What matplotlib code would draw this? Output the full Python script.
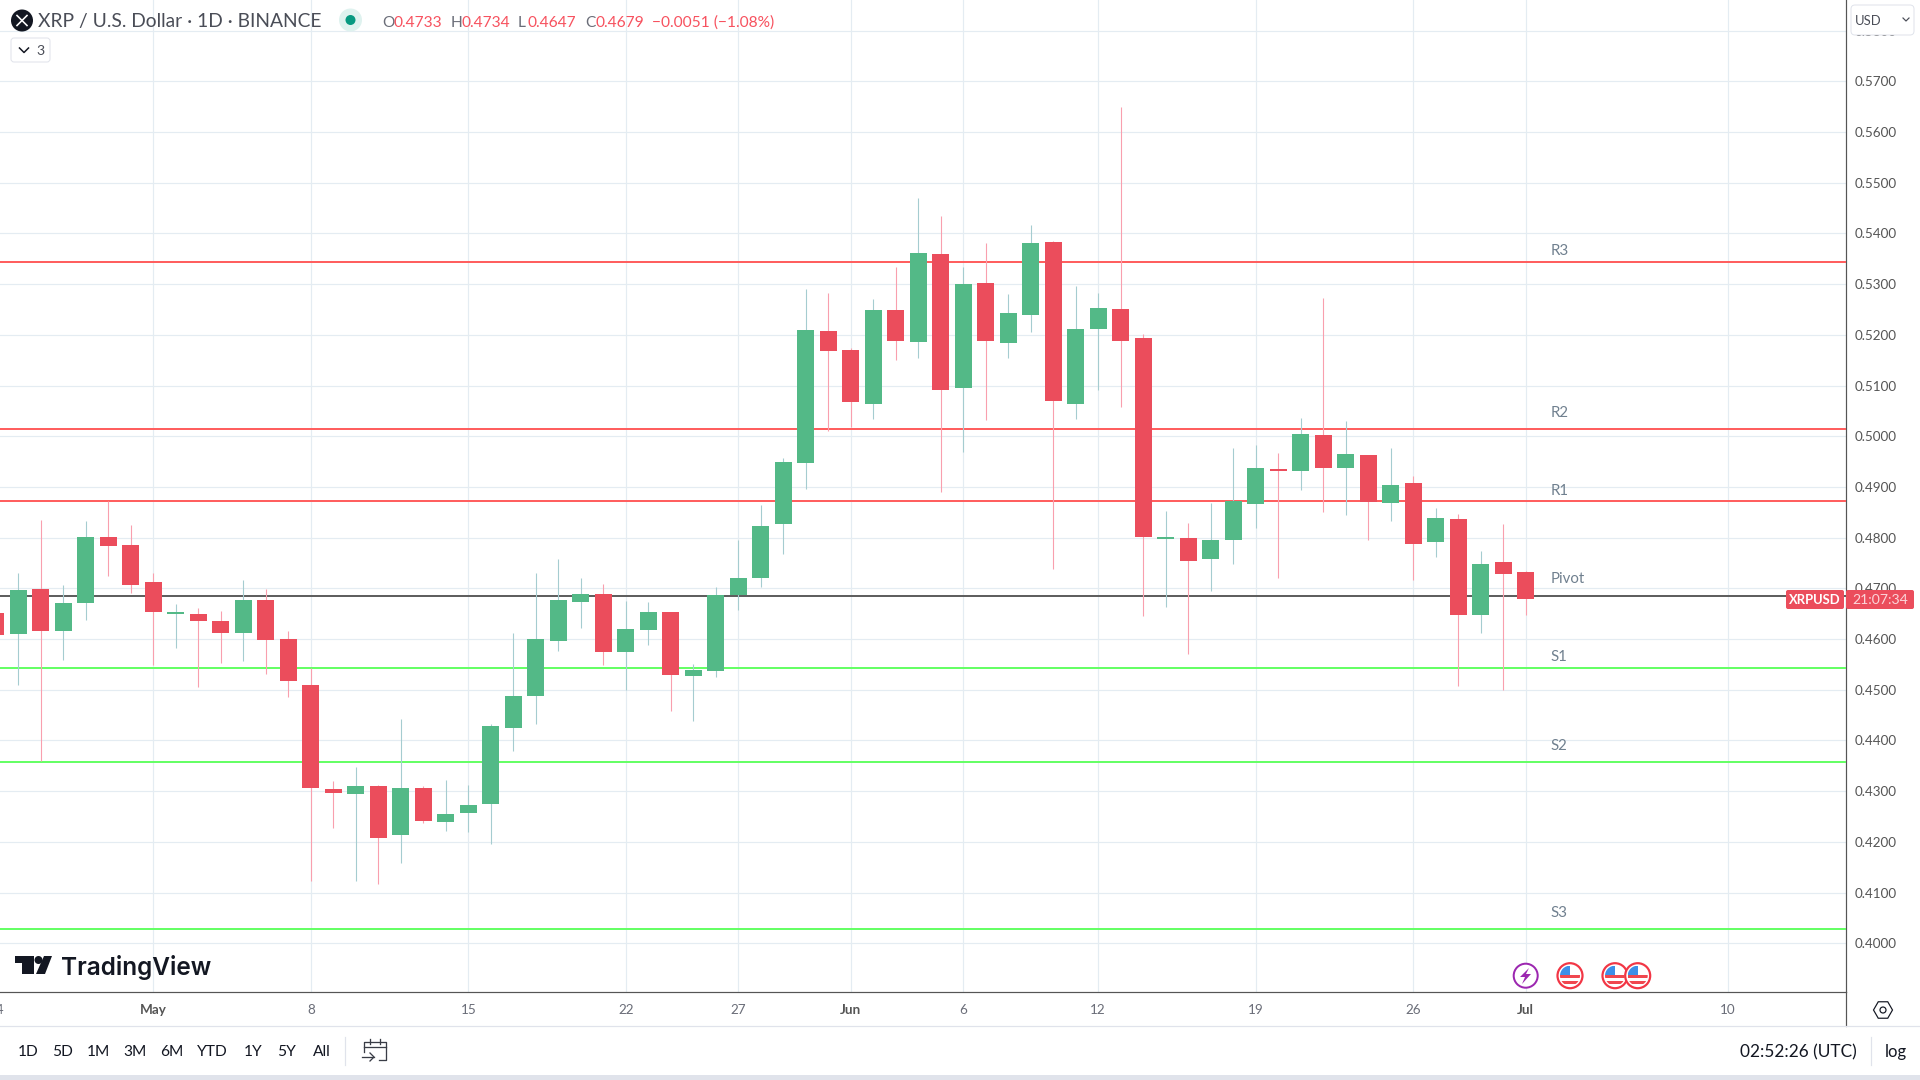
import matplotlib
matplotlib.use('Agg')
import matplotlib.pyplot as plt
from matplotlib.patches import Circle, Rectangle, Polygon, FancyBboxPatch, RegularPolygon

# daily candles, day 0 is May 1
candle_days = list(range(-7, 62))
opens = [.4651, .4610, .4699, .4616, .4671, .4801, .4786, .4713, .4650, .4650, .4636, .4612, .4677, .4600, .4509,
         .4304, .4294, .4310, .4214, .4306, .4239, .4257, .4274, .4425, .4488, .4596, .4673, .4689, .4574, .4618,
         .4653, .4527, .4537, .4687, .4720, .4827, .4947, .5207, .5170, .5064, .5249, .5186, .5359, .5095, .5302,
         .5184, .5239, .5383, .5064, .5212, .5251, .5194, .4797, .4799, .4758, .4795, .4866, .4935, .4931, .5002,
         .4937, .4963, .4868, .4908, .4791, .4837, .4647, .4752, .4733]
closes = [.4608, .4697, .4616, .4671, .4801, .4784, .4707, .4654, .4654, .4636, .4612, .4677, .4598, .4517, .4306,
          .4296, .4310, .4208, .4306, .4241, .4255, .4273, .4428, .4488, .4600, .4677, .4689, .4574, .4620, .4653,
          .4529, .4539, .4687, .4720, .4823, .4949, .5209, .5168, .5068, .5249, .5188, .5361, .5091, .5300, .5188,
          .5243, .5381, .5069, .5212, .5253, .5188, .4801, .4801, .4754, .4795, .4872, .4937, .4931, .5004, .4937,
          .4965, .4871, .4904, .4788, .4839, .4647, .4748, .4728, .4679]
highs = [.4651, .4730, .4835, .4707, .4833, .4872, .4825, .4730, .4669, .4661, .4655, .4717, .4699, .4616, .4543,
         .4320, .4348, .4312, .4442, .4310, .4322, .4312, .4432, .4612, .4730, .4758, .4720, .4708, .4675, .4673,
         .4653, .4551, .4703, .4795, .4864, .4957, .5290, .5282, .5174, .5271, .5334, .5470, .5434, .5334, .5381,
         .5281, .5417, .5385, .5296, .5282, .5649, .5202, .4852, .4829, .4868, .4977, .4983, .4967, .5036, .5273,
         .5030, .4963, .4977, .4921, .4858, .4847, .4774, .4827, .4734]
lows = [.4608, .4509, .4359, .4559, .4638, .4724, .4691, .4549, .4583, .4505, .4553, .4557, .4531, .4486, .4123,
        .4227, .4123, .4117, .4158, .4237, .4221, .4219, .4196, .4379, .4432, .4576, .4622, .4549, .4499, .4588,
        .4458, .4438, .4525, .4657, .4703, .4768, .4896, .5010, .5018, .5034, .5150, .5154, .4890, .4969, .5032,
        .5154, .5206, .4738, .5034, .5091, .5058, .4645, .4663, .4571, .4695, .4748, .4819, .4720, .4894, .4851,
        .4845, .4795, .4833, .4716, .4762, .4507, .4612, .4500, .4647]

level_names = ['R3', 'R2', 'R1', 'Pivot', 'S1', 'S2', 'S3']
level_values = [.5344, .5014, .4872, .4685, .4543, .4357, .4029]
level_colors = ['#ff5f5f', '#ff5f5f', '#ff5f5f', '#5f5f5f', '#66ff66', '#66ff66', '#66ff66']
level_gaps = [12, 17, 11, 18, 12, 17, 17]

tick_days = [0, 7, 14, 21, 26, 31, 36, 42, 49, 56, 61, 70]
tick_names = ['May', '8', '15', '22', '27', 'Jun', '6', '12', '19', '26', 'Jul', '10']
month_names = ['May', 'Jun', 'Jul']
price_ticks = [.40 + i * .01 for i in range(19)]
range_names = ['1D', '5D', '1M', '3M', '6M', 'YTD', '1Y', '5Y', 'All']
range_pos = [27.7, 62.7, 98.7, 135, 171.7, 212.7, 253, 286.7, 321.7]

UP = '#53b987'
DOWN = '#eb4d5c'
UP_WICK = '#a5ccd0'
DOWN_WICK = '#f99fae'
GRID = '#e4ecf2'
AXIS = '#555555'
FONT = 'Lato'


def px(size):
    return size * 0.72


def draw_candles(ax):
    for i in range(len(candle_days)):
        up = closes[i] >= opens[i]
        ax.vlines(candle_days[i], lows[i], highs[i], color=UP_WICK if up else DOWN_WICK,
                  linewidth=px(1.1), zorder=4)
        ax.bar(candle_days[i], abs(closes[i] - opens[i]), bottom=min(opens[i], closes[i]), width=0.756,
               color=UP if up else DOWN, linewidth=0, zorder=5)


def draw_levels(ax):
    for i in range(len(level_names)):
        ax.axhline(level_values[i], color=level_colors[i], linewidth=px(2), zorder=3)
        ax.annotate(level_names[i], (62.1, level_values[i]), xytext=(0, px(level_gaps[i] - 1)),
                    textcoords='offset points', va='center', ha='left', color='#70808f',
                    fontsize=px(15), family=FONT, zorder=6)


def draw_flag(ov, x, y):
    ring = Circle((x, y), 12.5, facecolor='white', edgecolor='#f23645', linewidth=px(2.2), zorder=3)
    ov.add_patch(ring)
    clip = Circle((x, y), 10, transform=ov.transData)
    for dy, h in [(-1, 3), (5, 3)]:
        r = Rectangle((x - 10, y + dy), 20, h, facecolor='#f0474f', linewidth=0, zorder=4)
        ov.add_patch(r)
        r.set_clip_path(clip)
    r = Rectangle((x - 10, y - 10), 10, 9, facecolor='#3d8fe8', linewidth=0, zorder=5)
    ov.add_patch(r)
    r.set_clip_path(clip)


def draw_chrome(ov):
    # header
    ov.add_patch(Circle((22, 20.5), 11, facecolor='#131722', linewidth=0))
    ov.plot([17, 27], [15.5, 25.5], color='white', linewidth=px(1.6))
    ov.plot([17, 27], [25.5, 15.5], color='white', linewidth=px(1.6))
    ov.text(38, 22, 'XRP / U.S. Dollar · 1D · BINANCE', fontsize=px(19.3), family=FONT, color='#4a4d57', va='center')
    ov.add_patch(Circle((350.5, 20), 11.5, facecolor='#dff2ef', linewidth=0))
    ov.add_patch(Circle((350.5, 20), 5, facecolor='#089981', linewidth=0))
    for x, letter, xv, value in [(382, 'O', 394, '0.4733'), (451, 'H', 462, '0.4734'),
                                 (518, 'L', 528, '0.4647'), (585, 'C', 595, '0.4679')]:
        ov.text(x, 23, letter, fontsize=px(15.5), family=FONT, color='#6a6d78', va='center')
        ov.text(xv, 23, value, fontsize=px(15.5), family=FONT, color='#f7525f', va='center')
    ov.text(652, 23, '\u22120.0051 (\u22121.08%)', fontsize=px(15.5), family=FONT, color='#f7525f', va='center')
    ov.add_patch(FancyBboxPatch((11, 38), 39, 24, boxstyle='round,pad=0,rounding_size=3',
                                facecolor='white', edgecolor='#e0e3eb', linewidth=px(1)))
    ov.plot([19.5, 24, 28.5], [48, 52.5, 48], color='#131722', linewidth=px(1.5))
    ov.text(40, 51, '3', fontsize=px(14), family=FONT, color='#4a4d57', va='center', ha='center')

    # currency box
    ov.add_patch(FancyBboxPatch((1851, 5), 63, 30, boxstyle='round,pad=0,rounding_size=4',
                                facecolor='white', edgecolor='#e0e3eb', linewidth=px(1)))
    ov.text(1855, 21, 'USD', fontsize=px(13), family=FONT, color='#4a4d57', va='center')
    ov.plot([1903, 1906, 1909], [18, 21, 18], color='#4a4d57', linewidth=px(1.2))

    # price label
    ov.add_patch(FancyBboxPatch((1786, 590), 58, 19, boxstyle='round,pad=0,rounding_size=2',
                                facecolor=DOWN, linewidth=0))
    ov.add_patch(FancyBboxPatch((1846, 590), 68, 19, boxstyle='round,pad=0,rounding_size=2',
                                facecolor=DOWN, linewidth=0))
    ov.text(1815, 600, 'XRPUSD', fontsize=px(13), family=FONT, weight='bold', color='white', va='center', ha='center')
    ov.text(1880, 600, '21:07:34', fontsize=px(14), family=FONT, color='#fbd5d9', va='center', ha='center')

    # logo
    ov.add_patch(Polygon([(15, 956), (34, 956), (34, 974), (22, 974), (22, 963), (15, 963)], facecolor='#131722',
                         linewidth=0))
    ov.add_patch(Circle((38.5, 960), 4, facecolor='#131722', linewidth=0))
    ov.add_patch(Polygon([(44, 956), (52, 956), (45, 974), (36, 974)], facecolor='#131722', linewidth=0))
    ov.text(61.5, 967, 'TradingView', fontsize=px(24.4), family='Inter', weight='semibold', color='#131722',
            va='center')

    # events
    ov.add_patch(Circle((1525.7, 975.7), 12, facecolor='white', edgecolor='#9c27b0', linewidth=px(2)))
    ov.add_patch(Polygon([(1529, 968), (1520, 977), (1525, 977), (1522, 984), (1531, 974), (1526, 974)],
                         facecolor='#9c27b0', linewidth=0))
    for x in [1570, 1615, 1637.7]:
        draw_flag(ov, x, 975.7)

    # time axis corner and separators
    ov.plot([1845.5, 1845.5], [992, 1026], color=AXIS, linewidth=px(1.2))
    ov.plot([0, 1920], [1026, 1026], color='#e0e3eb', linewidth=px(1.2))
    ov.add_patch(Rectangle((0, 1075), 1920, 5, facecolor='#e0e3eb', linewidth=0))
    ov.add_patch(RegularPolygon((1883, 1010), 6, radius=9.5, orientation=0.5236, facecolor='white',
                                edgecolor='#131722', linewidth=px(1.2)))
    ov.add_patch(Circle((1883, 1010), 3, facecolor='white', edgecolor='#131722', linewidth=px(1.2)))
    ov.text(-4, 1010, '24', fontsize=px(13.5), family=FONT, color='#6a6d78', va='center', ha='center')

    # bottom toolbar
    for i in range(len(range_names)):
        ov.text(range_pos[i], 1051.5, range_names[i], fontsize=px(15.5), family=FONT, color='#131722',
                va='center', ha='center')
    ov.plot([345, 345], [1037, 1065], color='#e0e3eb', linewidth=px(1.2))
    ov.plot([364, 364, 386, 386, 379], [1052, 1042, 1042, 1060, 1060], color='#3a3d47', linewidth=px(1.3))
    ov.plot([364, 386], [1047, 1047], color='#3a3d47', linewidth=px(1.3))
    ov.plot([370, 370], [1039, 1044], color='#3a3d47', linewidth=px(1.3))
    ov.plot([380, 380], [1039, 1044], color='#3a3d47', linewidth=px(1.3))
    ov.plot([362, 374], [1057, 1057], color='#3a3d47', linewidth=px(1.3))
    ov.plot([370, 374, 370], [1053, 1057, 1061], color='#3a3d47', linewidth=px(1.3))
    ov.text(1798.5, 1052, '02:52:26 (UTC)', fontsize=px(17.3), family=FONT, color='#131722', va='center', ha='center')
    ov.plot([1871, 1871], [1037, 1065], color='#e0e3eb', linewidth=px(1.2))
    ov.text(1896, 1052, 'log', fontsize=px(16.5), family=FONT, color='#131722', va='center', ha='center')


def main():
    fig = plt.figure(figsize=(19.2, 10.8), dpi=100, facecolor='white')
    ax = fig.add_axes([0, 1 - 992 / 1080, 1845.5 / 1920, 992 / 1080])
    ax.set_xlim(-6.817, 75.22)
    ax.set_ylim(.3904, .58603)

    ax.set_xticks(tick_days)
    ax.set_xticklabels(tick_names, family=FONT, fontsize=px(13.5), color='#6a6d78')
    for label in ax.get_xticklabels():
        if label.get_text() in month_names:
            label.set_fontweight('bold')
            label.set_color('#555555')
    ax.set_yticks(price_ticks)
    ax.set_yticklabels(['%.4f' % p for p in price_ticks], family=FONT, fontsize=px(13.5), color='#555555')
    ax.yaxis.tick_right()
    ax.tick_params(axis='x', length=0, pad=px(12.5))
    ax.tick_params(axis='y', length=0, pad=px(9))
    ax.grid(True, color=GRID, linewidth=px(1.2), zorder=0)
    ax.set_axisbelow(True)
    for side in ['top', 'left']:
        ax.spines[side].set_visible(False)
    for side in ['right', 'bottom']:
        ax.spines[side].set_color(AXIS)
        ax.spines[side].set_linewidth(px(1.2))

    draw_levels(ax)
    draw_candles(ax)

    ov = fig.add_axes([0, 0, 1, 1], zorder=10)
    ov.set_xlim(0, 1920)
    ov.set_ylim(1080, 0)
    ov.axis('off')
    ov.patch.set_alpha(0)
    draw_chrome(ov)

    fig.savefig('out.png', dpi=100)


if __name__ == '__main__':
    main()
